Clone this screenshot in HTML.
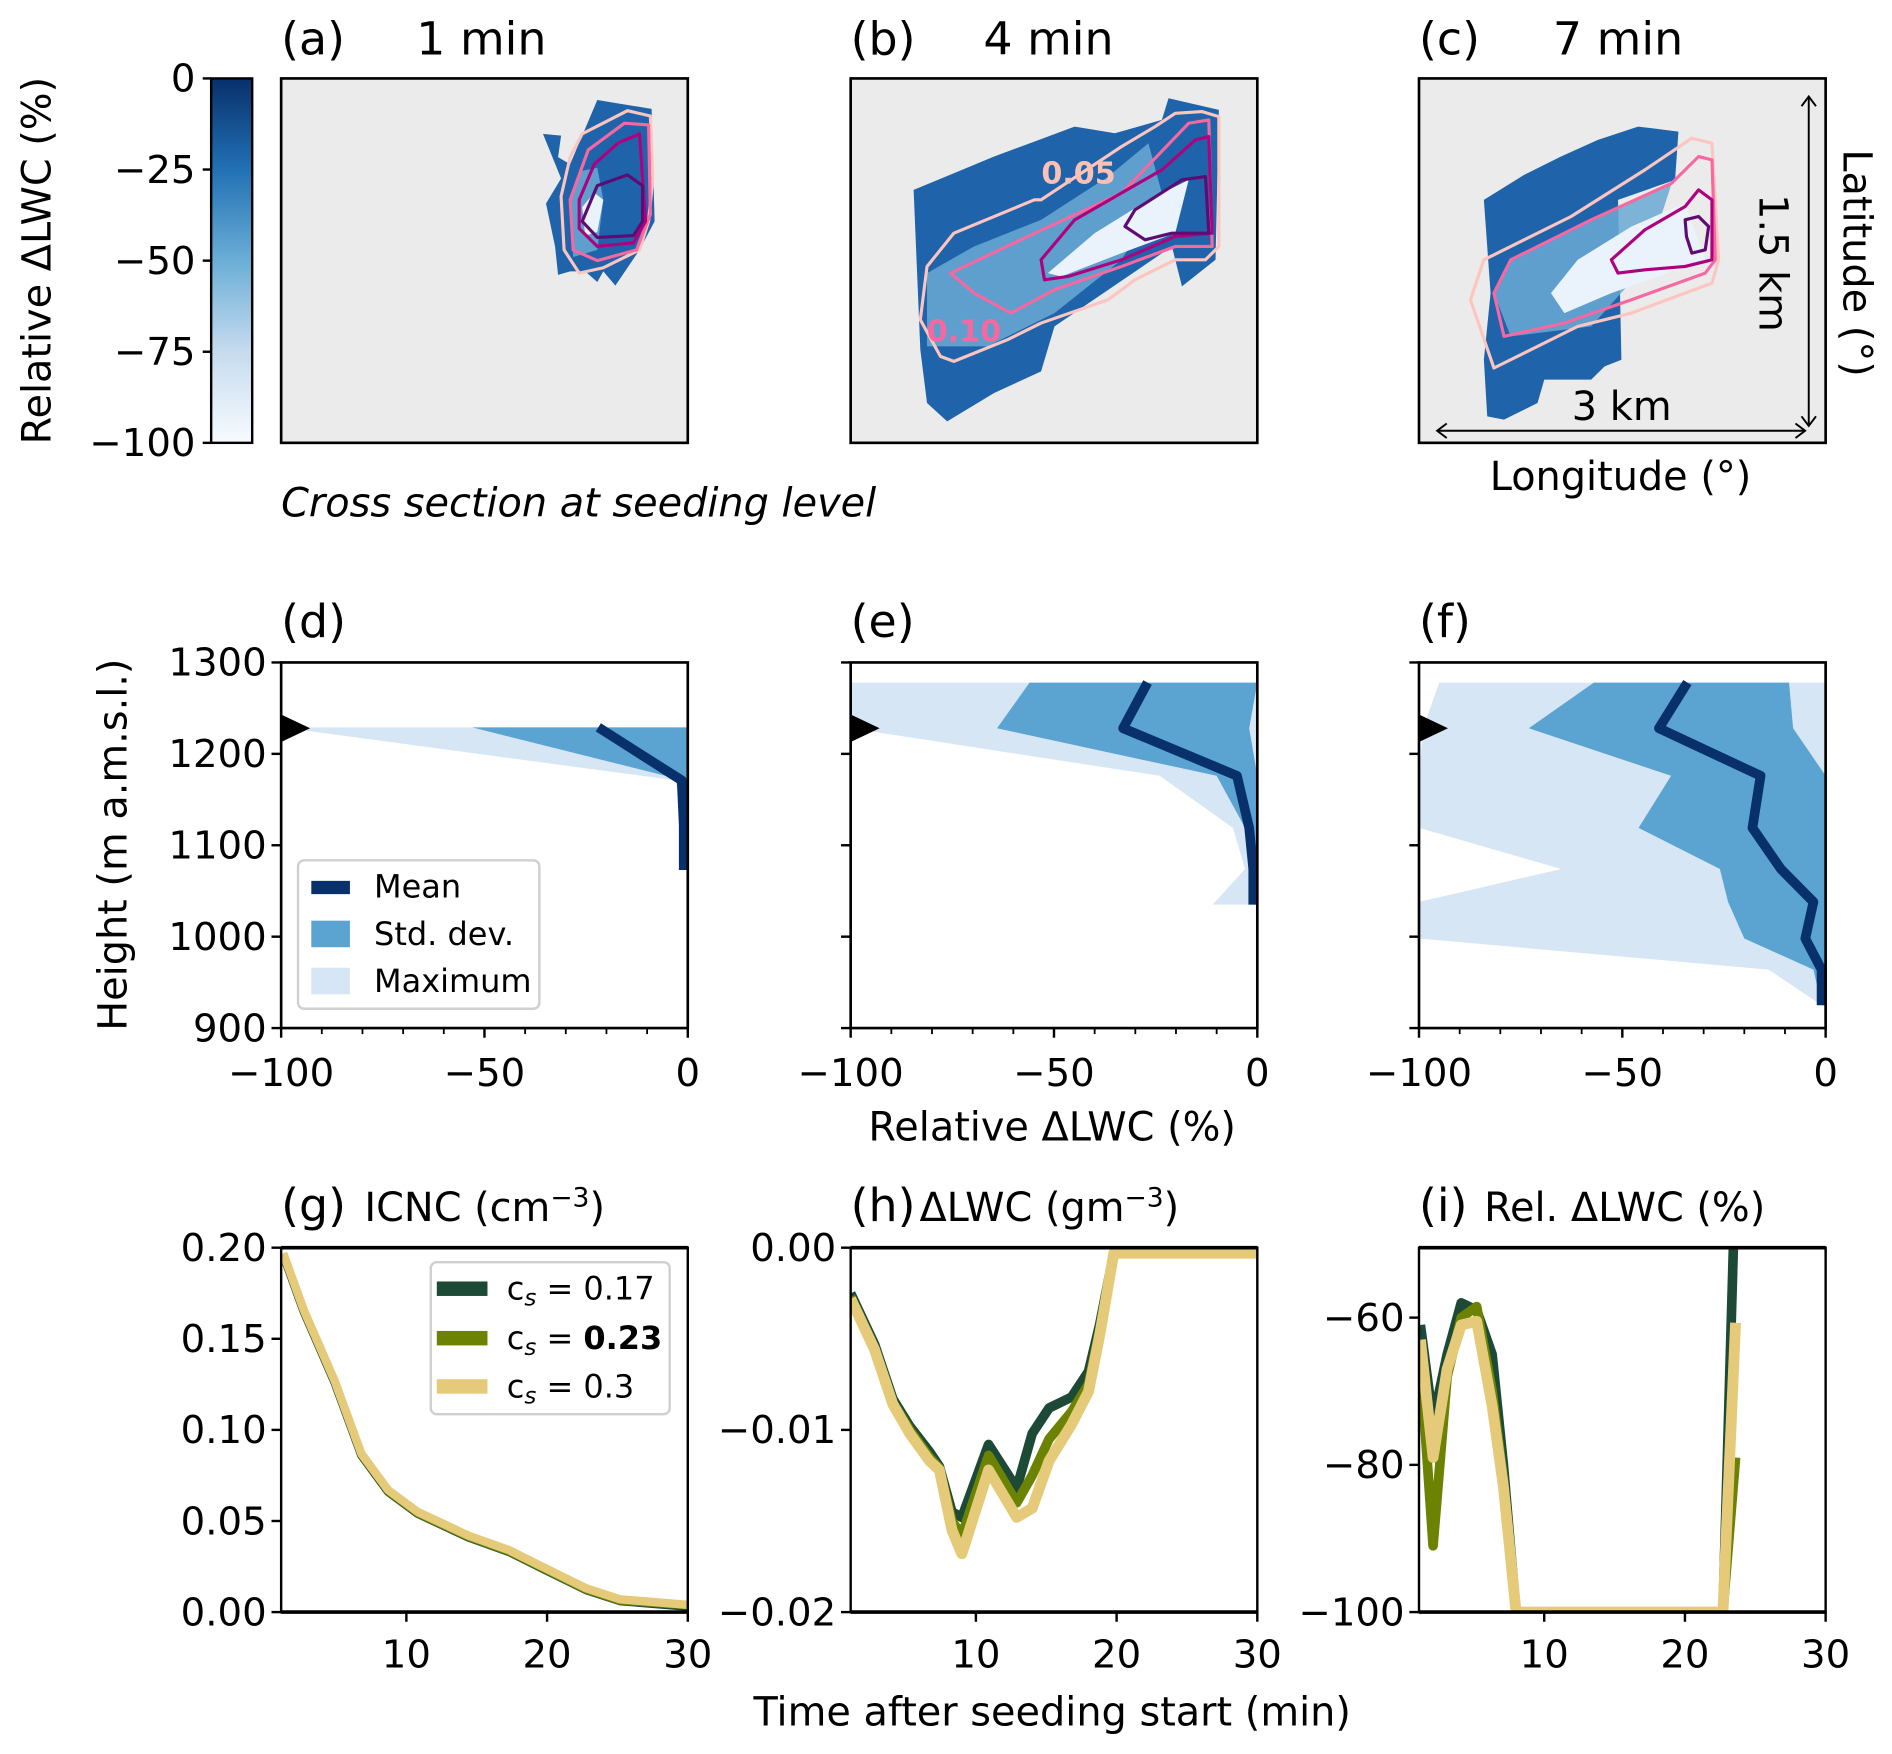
<!DOCTYPE html>
<html><head><meta charset="utf-8">
<style>
html,body{margin:0;padding:0;background:#fff;}
svg{display:block;}
text{font-family:"DejaVu Sans","Liberation Sans",sans-serif;}
</style></head>
<body>
<svg id="fig" xmlns="http://www.w3.org/2000/svg" width="1892" height="1754" viewBox="0 0 1568 1453.6" preserveAspectRatio="none">
<defs>
<linearGradient id="blues" x1="0" y1="0" x2="0" y2="1">
<stop offset="0" stop-color="#08306b"/><stop offset="0.25" stop-color="#2171b5"/>
<stop offset="0.5" stop-color="#6baed6"/><stop offset="0.75" stop-color="#c6dbef"/>
<stop offset="1" stop-color="#f7fbff"/></linearGradient>
</defs>
</svg>
<script>
// ---------- data: vertical profiles ----------
const levelsD=[1229,1171,1122,1073];
const maxD=[-100,-3,-1,-1];
const stdLD=[-53,-1,-1,-1];
const stdRD=[0,0,0,0];
const meanD=[-22,-1.5,-1,-1];

const levelsE=[1278,1228,1176,1119,1074,1035];
const maxE=[-100,-100,-24,-6,-3,-11];
const stdLE=[-56,-64,-10,-3,-1,-1];
const stdRE=[0,-2,0,0,0,0];
const meanE=[-27,-33,-5,-2,-1,-1];

const levelsF=[1278,1228,1176,1119,1074,1038,998,964,925];
const maxF=[-95,-99,-100,-100,-65,-100,-100,-14,-1];
const stdLF=[-57,-73,-38,-46,-26,-24,-20,-3,-1];
const stdRF=[-9,-8,0,0,0,0,0,0,0];
const meanF=[-34,-41,-16,-18,-11,-3,-5,-1,-1];

// ---------- data: time series ----------
const timeG=[1.25,2.7,4.9,6.8,8.7,10.8,14.4,17.3,19.9,22.8,25.2,30];
const icnc017=[0.196,0.165,0.126,0.086,0.066,0.054,0.041,0.033,0.023,0.012,0.006,0.003];
const icnc023=[0.196,0.165,0.126,0.086,0.066,0.054,0.041,0.033,0.023,0.012,0.006,0.0035];
const icnc030=[0.197,0.166,0.127,0.087,0.067,0.055,0.042,0.034,0.024,0.013,0.007,0.004];

const timeH=[1.1,2.8,4.1,5.3,6.7,7.4,8.3,9.0,10.9,12.9,14.0,15.2,16.8,18.0,18.8,19.8,30];
const dlwc017=[-0.0025,-0.0053,-0.0083,-0.0098,-0.0112,-0.0120,-0.0145,-0.0148,-0.0108,-0.0132,-0.0102,-0.0088,-0.0082,-0.0068,-0.0042,-0.0003,-0.0003];
const dlwc023=[-0.0027,-0.0055,-0.0085,-0.0100,-0.0115,-0.0121,-0.0150,-0.0158,-0.0114,-0.0140,-0.0125,-0.0105,-0.0090,-0.0075,-0.0045,-0.0003,-0.0003];
const dlwc030=[-0.0028,-0.0056,-0.0086,-0.0102,-0.0117,-0.0122,-0.0155,-0.0168,-0.0122,-0.0148,-0.0143,-0.0117,-0.0097,-0.0079,-0.0048,-0.0003,-0.0003];

const timeI=[1.2,2.1,3.1,4.1,5.2,6.3,7.1,8.0,22.7,23.6];
const rel017=[-61,-74,-65,-58,-59,-65,-80,-100,-100,-40];
const rel023=[-66,-91,-68,-60,-58.5,-70,-82,-100,-100,-79];
const rel030=[-63,-79,-67,-61,-60.5,-72,-83,-100,-100,-60.7];

const seriesNames=['0.17','0.23','0.3'];
const seriesColors=['#1c4a36','#6b8203','#e5cb79'];

// ---------- helpers ----------
const NS='http://www.w3.org/2000/svg';
const fig=document.getElementById('fig');
const TK=32, AX=33, TT=38;
function mk(tag,attrs,parent){const e=document.createElementNS(NS,tag);for(const k in attrs)e.setAttribute(k,attrs[k]);(parent||fig).appendChild(e);return e;}
function txt(s,x,y,size,anchor,parent,extra){const t=mk('text',Object.assign({x:x,y:y,'font-size':size,'text-anchor':anchor||'start',fill:'#000'},extra||{}),parent);t.textContent=s;return t;}
function lin(a,b,c,d){return v=>c+(v-a)*(d-c)/(b-a);}

// ---------- colorbar ----------
const cb=mk('g',{});


mk('rect',{x:175,y:65,width:34,height:302,fill:'url(#blues)',stroke:'#000','stroke-width':2},cb);
const cbTicks=[0,-25,-50,-75,-100];
const cby=lin(0,-100,65,367);
cbTicks.forEach(v=>{mk('line',{x1:168,x2:175,y1:cby(v),y2:cby(v),stroke:'#000','stroke-width':2},cb);
 txt(String(v).replace('-','\u2212'),162,cby(v)+11,TK,'end',cb);});
const cbl=txt('Relative \u0394LWC (%)',0,0,AX,'middle',cb,{transform:'translate(42,216) rotate(-90)'});



// ---------- map panels ----------
function zA(p){return [p[0]/2,p[1]/3.38];}
function zB(p){return [p[0]*0.556+696,p[1]*0.276+49.7];}
function poly(pts,conv,attrs,parent){return mk('polygon',Object.assign({points:pts.map(p=>conv(p).join(',')).join(' ')},attrs),parent);}
const cLight='#fcc5c0',cPink='#f768a1',cMag='#ae017e',cPur='#5e0b73';
function mapPanel(name,x0,label,title,titleX,blob,mid,inner,contours,conv){
 const g=mk('g',{});
 
 
 mk('rect',{x:x0,y:65,width:337,height:302,fill:'#ebebeb'},g);
 poly(blob,conv,{fill:'#1f63aa'},g);
 poly(mid,conv,{fill:'#6aa9d4',opacity:0.85},g);
 poly(inner,conv,{fill:'#eaf3fb'},g);
 const cols=[cLight,cPink,cMag,cPur];
 contours.forEach((c,i)=>{ if(c) poly(c,conv,{fill:'none',stroke:cols[i],'stroke-width':2.6,'stroke-linejoin':'round'},g);});
 mk('rect',{x:x0,y:65,width:337,height:302,fill:'none',stroke:'#000','stroke-width':2.2},g);
 txt(label,x0,45,TT,'start',g);
 txt(title,titleX,45,TT,'start',g);
 return g;
}
mapPanel('map-panel-a',233,'(a)','1 min',345,
 [[900,375],[930,380],[925,440],[945,460],[965,380],[990,280],[1080,305],[1085,620],[1060,700],[1040,750],[1020,800],[1000,760],[990,790],[970,760],[945,760],[925,770],[920,690],[905,570],[930,500]],
 [[945,560],[960,480],[990,470],[1000,560],[990,700],[950,720]],
 [[965,580],[985,540],[1000,560],[990,650],[970,660]],
 [[[965,375],[1040,310],[1078,325],[1082,500],[1075,620],[1060,700],[1000,750],[960,765],[935,700],[930,550],[945,440]],
  [[975,420],[1035,345],[1075,350],[1078,600],[1055,700],[990,730],[950,700],[945,560]],
  [[985,460],[1025,400],[1060,375],[1070,620],[1050,680],[990,690],[960,640],[960,560]],
  [[990,520],[1040,490],[1065,520],[1065,620],[1050,660],[990,665],[965,620],[980,560]]],zA);
mapPanel('map-panel-b',705,'(b)','4 min',815,
 [[160,1085],[130,1030],[120,870],[110,390],[170,340],[230,290],[290,245],[350,200],[410,220],[480,180],[490,115],[565,150],[560,600],[510,680],[495,560],[320,800],[300,935],[230,1000]],
 [[130,640],[200,560],[300,480],[400,350],[460,250],[480,400],[420,600],[320,760],[220,860],[130,860]],
 [[310,640],[380,520],[460,420],[520,360],[500,520],[420,580],[330,650]],
 [[[290,420],[170,520],[130,620],[120,780],[150,890],[170,905],[250,840],[300,790],[400,720],[440,660],[500,600],[545,600],[565,560],[565,170],[540,155],[500,160],[470,200],[420,260],[300,420]],
  [[165,640],[280,530],[420,400],[520,190],[550,180],[555,560],[500,560],[420,620],[320,690],[255,760],[200,700]],
  [[305,660],[300,600],[350,480],[480,330],[530,240],[550,230],[555,520],[500,530],[420,600],[340,650]],
  [[425,500],[440,450],[510,360],[545,350],[550,520],[495,520],[455,540]]],zB);
mapPanel('map-panel-c',1176,'(c)','7 min',1287,
 [[960,420],[1020,345],[1075,290],[1130,240],[1190,200],[1250,215],[1245,360],[1160,420],[1165,900],[1140,920],[1120,960],[1050,960],[1040,1030],[990,1080],[965,1070],[960,900],[970,700]],
 [[975,700],[1000,600],[1120,480],[1240,370],[1200,620],[1120,800],[1000,830]],
 [[1060,700],[1100,600],[1180,500],[1260,430],[1290,600],[1150,700],[1080,760]],
 [[[975,925],[940,720],[960,600],[1090,470],[1200,330],[1270,235],[1300,250],[1310,600],[1300,670],[1180,760],[1100,800]],
  [[990,830],[975,700],[1000,600],[1120,480],[1240,370],[1280,290],[1300,300],[1305,600],[1290,640],[1180,720],[1080,790]],
  [[1160,640],[1150,600],[1200,510],[1260,440],[1280,390],[1300,420],[1300,600],[1260,620],[1200,630]],
  [[1260,480],[1280,470],[1295,500],[1290,570],[1270,580],[1262,530]]],zB);
// contour labels in (b)
const l1=txt('0.05',863,152,25,'start',null,{'font-weight':'bold',style:'fill:#fcc0b5'});


const l2=txt('0.10',768,283,25,'start',null,{'font-weight':'bold',style:'fill:#f768a1'});


// scale arrows in (c)
const sc=mk('g',{stroke:'#000','stroke-width':1.6,fill:'none'});


mk('line',{x1:1191,y1:357,x2:1496,y2:357},sc);
mk('polyline',{points:'1199,351 1191,357 1199,363'},sc);
mk('polyline',{points:'1488,351 1496,357 1488,363'},sc);
mk('line',{x1:1499,y1:80,x2:1499,y2:353},sc);
mk('polyline',{points:'1493,88 1499,80 1505,88'},sc);
mk('polyline',{points:'1493,345 1499,353 1505,345'},sc);
txt('3 km',1344,348,AX,'middle');
txt('1.5 km',0,0,AX,'middle',null,{transform:'translate(1458,218) rotate(90)'});
txt('Latitude (°)',0,0,AX,'middle',null,{transform:'translate(1528,218) rotate(90)'});
txt('Longitude (°)',1343,406,AX,'middle');
txt('Cross section at seeding level',233,428,AX,'start',null,{'font-style':'italic'});

// ---------- profile panels ----------
const yTop=549,yBot=852;
const hy=lin(1300,900,yTop,yBot);
function profile(name,x0,label,lev,mx,sl,sr,mn,showY){
 const g=mk('g',{});
 
 
 const px=lin(-100,0,x0,x0+337);
 let p=lev.map((h,i)=>px(mx[i])+','+hy(h));
 p=p.concat(lev.slice().reverse().map(h=>px(0)+','+hy(h)));
 const m=mk('polygon',{points:p.join(' '),fill:'#d6e6f4'},g);
 
 let s=lev.map((h,i)=>px(sl[i])+','+hy(h));
 s=s.concat(lev.map((h,i)=>[h,i]).reverse().map(a=>px(sr[a[1]])+','+hy(a[0])));
 const sd=mk('polygon',{points:s.join(' '),fill:'#5ba3d0'},g);
 
 const ml=mk('polyline',{points:lev.map((h,i)=>px(mn[i])+','+hy(h)).join(' '),fill:'none',stroke:'#08306b','stroke-width':8,'stroke-linejoin':'round'},g);
 
 const mkr=mk('polygon',{points:`${x0},${hy(1243)} ${x0+24},${hy(1228)} ${x0},${hy(1213)}`,fill:'#000'},g);
 
 mk('rect',{x:x0,y:yTop,width:337,height:yBot-yTop,fill:'none',stroke:'#000','stroke-width':2.2},g);
 [1300,1200,1100,1000,900].forEach(h=>{mk('line',{x1:x0-8,x2:x0,y1:hy(h),y2:hy(h),stroke:'#000','stroke-width':2},g);
  if(showY) txt(String(h),x0-12,hy(h)+11,TK,'end',g);});
 for(let v=-100;v<=0;v+=10){const maj=v%50===0;mk('line',{x1:px(v),x2:px(v),y1:yBot,y2:yBot+(maj?8:5),stroke:'#000','stroke-width':maj?2:1.5},g);
  if(maj) txt(String(v).replace('-','\u2212'),px(v),yBot+48,TK,'middle',g);}
 txt(label,x0,528,TT,'start',g);
 return g;
}
profile('profile-panel-d',233,'(d)',levelsD,maxD,stdLD,stdRD,meanD,true);
profile('profile-panel-e',705,'(e)',levelsE,maxE,stdLE,stdRE,meanE,false);
profile('profile-panel-f',1176,'(f)',levelsF,maxF,stdLF,stdRF,meanF,false);
txt('Height (m a.m.s.l.)',0,0,AX,'middle',null,{transform:'translate(105,700) rotate(-90)'});
txt('Relative \u0394LWC (%)',872,945,AX,'middle');
// legend d
const lg=mk('g',{});


mk('rect',{x:247,y:713,width:200,height:123,rx:5,fill:'#fff',stroke:'#d0d0d0','stroke-width':2},lg);
mk('rect',{x:258,y:730,width:32,height:11,fill:'#08306b'},lg);
mk('rect',{x:258,y:763,width:32,height:22,fill:'#5ba3d0'},lg);
mk('rect',{x:258,y:802,width:32,height:22,fill:'#d6e6f4'},lg);
txt('Mean',310,744,26.5,'start',lg);
txt('Std. dev.',310,783,26.5,'start',lg);
txt('Maximum',310,822,26.5,'start',lg);

// ---------- time series panels ----------
const bTop=1034,bBot=1336,tMin=1.1,tMax=30;
function tsPanel(name,x0,label,title,titleX,ymin,ymax,yticks,ylabels,times,series,widths){
 const g=mk('g',{});
 
 
 const px=lin(tMin,tMax,x0,x0+337),py=lin(ymin,ymax,bBot,bTop);
 const cp='clip-'+name;
 const c=mk('clipPath',{id:cp},g);mk('rect',{x:x0,y:bTop,width:337,height:bBot-bTop},c);
 series.forEach((s,k)=>{const l=mk('polyline',{points:times.map((t,i)=>px(t)+','+py(s[i])).join(' '),fill:'none',stroke:seriesColors[k],'stroke-width':widths[k],'stroke-linejoin':'round','clip-path':'url(#'+cp+')'},g);
  
  });
 mk('rect',{x:x0,y:bTop,width:337,height:bBot-bTop,fill:'none',stroke:'#000','stroke-width':2},g);
 mk('line',{x1:x0,x2:x0+337,y1:bTop,y2:bTop,stroke:'#000','stroke-width':3},g);
 mk('line',{x1:x0,x2:x0+337,y1:bBot,y2:bBot,stroke:'#000','stroke-width':3},g);
 yticks.forEach((v,i)=>{mk('line',{x1:x0-8,x2:x0,y1:py(v),y2:py(v),stroke:'#000','stroke-width':2},g);
  txt(ylabels[i],x0-12,py(v)+11,TK,'end',g);});
 [10,20,30].forEach(v=>{mk('line',{x1:px(v),x2:px(v),y1:bBot,y2:bBot+8,stroke:'#000','stroke-width':2},g);
  txt(String(v),px(v),bBot+46,TK,'middle',g);});
 txt(label,x0,1012,TT,'start',g);
 if(title) title(g);
 return g;
}
const gTicks=[0,0.05,0.1,0.15,0.2];
tsPanel('panel-g-icnc',233,'(g)',function(g){const t=txt('ICNC (cm',302,1012,AX,'start',g);const s=mk('tspan',{dy:-12,'font-size':22},t);s.textContent='\u22123';const e=mk('tspan',{dy:12},t);e.textContent=')';},302,
 0,0.2,gTicks,['0.00','0.05','0.10','0.15','0.20'],timeG,[icnc017,icnc023,icnc030],[7,6,7]);
tsPanel('panel-h-dlwc',705,'(h)',function(g){const t=txt('\u0394LWC (gm',762,1012,AX,'start',g);const s=mk('tspan',{dy:-12,'font-size':22},t);s.textContent='\u22123';const e=mk('tspan',{dy:12},t);e.textContent=')';},762,
 -0.02,0,[-0.02,-0.01,0],['\u22120.02','\u22120.01','0.00'],timeH,[dlwc017,dlwc023,dlwc030],[8,8,9]);
tsPanel('panel-i-rel-dlwc',1176,'(i)',function(g){txt('Rel. \u0394LWC (%)',1230,1012,AX,'start',g);},1230,
 -100,-50.5,[-100,-80,-60],['\u2212100','\u221280','\u221260'],timeI,[rel017,rel023,rel030],[8,8,9]);
txt('Time after seeding start (min)',872,1430,AX,'middle');
// legend g
const lg2=mk('g',{});


mk('rect',{x:357,y:1046,width:198,height:126,rx:5,fill:'#fff',stroke:'#d0d0d0','stroke-width':2},lg2);
const lv=['0.17','0.23','0.3'];
[1068,1109,1149].forEach((y,i)=>{mk('rect',{x:362,y:y-6,width:42,height:12,fill:seriesColors[i]},lg2);
 const t=txt('c',420,y+9,26.5,'start',lg2);const s=mk('tspan',{dy:5,'font-size':19,'font-style':'italic'},t);s.textContent='s';
 const e=mk('tspan',{dy:-5},t);e.textContent=' = ';const v=mk('tspan',i===1?{'font-weight':'bold'}:{},t);v.textContent=lv[i];});
</script>
</body></html>
